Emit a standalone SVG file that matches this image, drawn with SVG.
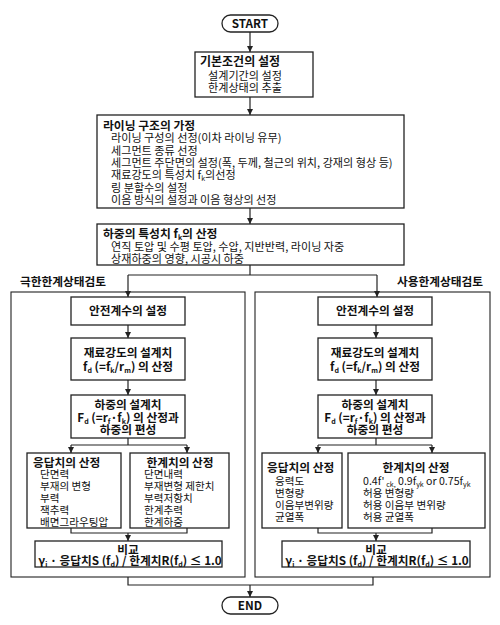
<svg xmlns="http://www.w3.org/2000/svg" width="500" height="625" viewBox="0 0 500 625">
<style>
text{font-family:"Noto Sans CJK KR","Noto Sans",sans-serif;fill:#111;}
.t{font-size:10.6px;}
.tt{font-size:11.1px;}
.b{font-size:11.7px;font-weight:bold;}
.bb{font-size:11.8px;font-weight:bold;}
.c{text-anchor:middle;}
.box{fill:#fff;stroke:#222;stroke-width:1.3;}
.panel{fill:none;stroke:#222;stroke-width:1.1;}
.ln{fill:none;stroke:#222;stroke-width:1.2;}
.s{font-size:7px;baseline-shift:-2px;}
</style>
<defs>
<marker id="ah" viewBox="0 0 8 8" refX="8" refY="4" markerWidth="6" markerHeight="6" markerUnits="userSpaceOnUse" orient="auto">
<path d="M0,0 L8,4 L0,8 z" fill="#222"/>
</marker>
</defs>

<g id="panels">
<rect class="panel" x="11" y="292" width="234" height="285"/>
<rect class="panel" x="255" y="292" width="235" height="285"/>
<text class="b" x="20" y="286">극한한계상태검토</text>
<text class="b" x="397" y="286">사용한계상태검토</text>
</g>

<g id="connectors">
<line class="ln" x1="250" y1="32" x2="250" y2="52" marker-end="url(#ah)"/>
<line class="ln" x1="250" y1="97" x2="250" y2="115" marker-end="url(#ah)"/>
<line class="ln" x1="250" y1="208" x2="250" y2="224" marker-end="url(#ah)"/>
<polyline class="ln" points="250,265 250,275"/>
<polyline class="ln" points="128,275 377,275"/>
<line class="ln" x1="128" y1="275" x2="128" y2="297" marker-end="url(#ah)"/>
<line class="ln" x1="377" y1="275" x2="377" y2="297" marker-end="url(#ah)"/>
<line class="ln" x1="128" y1="325" x2="128" y2="338" marker-end="url(#ah)"/>
<line class="ln" x1="128" y1="380" x2="128" y2="395" marker-end="url(#ah)"/>
<polyline class="ln" points="128,438 128,445"/>
<polyline class="ln" points="71,445 187,445"/>
<line class="ln" x1="71" y1="445" x2="71" y2="453" marker-end="url(#ah)"/>
<line class="ln" x1="187" y1="445" x2="187" y2="453" marker-end="url(#ah)"/>
<polyline class="ln" points="71,528 71,533 187,533 187,528"/>
<line class="ln" x1="128" y1="533" x2="128" y2="541" marker-end="url(#ah)"/>
<line class="ln" x1="376" y1="325" x2="376" y2="338" marker-end="url(#ah)"/>
<line class="ln" x1="376" y1="380" x2="376" y2="395" marker-end="url(#ah)"/>
<polyline class="ln" points="376,438 376,445"/>
<polyline class="ln" points="318,445 432,445"/>
<line class="ln" x1="318" y1="445" x2="318" y2="453" marker-end="url(#ah)"/>
<line class="ln" x1="432" y1="445" x2="432" y2="453" marker-end="url(#ah)"/>
<polyline class="ln" points="318,528 318,533 432,533 432,528"/>
<line class="ln" x1="376" y1="533" x2="376" y2="541" marker-end="url(#ah)"/>
<polyline class="ln" points="128,577 128,585 373,585 373,577"/>
<line class="ln" x1="250" y1="585" x2="250" y2="597" marker-end="url(#ah)"/>
</g>

<g id="start">
<rect class="box" x="222" y="15" width="56" height="17" rx="8.5"/>
<text class="b c" x="250" y="27.5">START</text>
</g>

<g id="basic">
<rect class="box" x="195" y="52" width="118" height="45"/>
<text class="bb" x="200" y="66" style="font-size:12px">기본조건의 설정</text>
<text class="tt" x="208" y="80">설계기간의 설정</text>
<text class="tt" x="208" y="92">한계상태의 추출</text>
</g>

<g id="lining">
<rect class="box" x="97" y="115" width="307" height="93"/>
<text class="bb" x="103" y="130">라이닝 구조의 가정</text>
<text class="tt" x="111" y="142.3">라이닝 구성의 선정(이차 라이닝 유무)</text>
<text class="tt" x="111" y="154.6">세그먼트 종류 선정</text>
<text class="tt" x="111" y="166.9">세그먼트 주단면의 설정(폭, 두께, 철근의 위치, 강재의 형상 등)</text>
<text class="tt" x="111" y="179.2">재료강도의 특성치 f<tspan class="s">k</tspan>의선정</text>
<text class="tt" x="111" y="191.5">링 분할수의 설정</text>
<text class="tt" x="111" y="203.8">이음 방식의 설정과 이음 형상의 선정</text>
</g>

<g id="load">
<rect class="box" x="97" y="224" width="307" height="41"/>
<text class="bb" x="103" y="238">하중의 특성치 f<tspan class="s">k</tspan>의 산정</text>
<text class="tt" x="111" y="250.5">연직 토압 및 수평 토압, 수압, 지반반력, 라이닝 자중</text>
<text class="tt" x="111" y="262.5">상재하중의 영향, 시공시 하중</text>
</g>

<g id="L-safety">
<rect class="box" x="71" y="297" width="114" height="28"/>
<text class="b c" x="128" y="315">안전계수의 설정</text>
</g>
<g id="L-material">
<rect class="box" x="71" y="338" width="114" height="42"/>
<text class="b c" x="128" y="357">재료강도의 설계치</text>
<text class="b c" x="128" y="371">f<tspan class="s">d</tspan> (=f<tspan class="s">k</tspan>/r<tspan class="s">m</tspan>) 의 산정</text>
</g>
<g id="L-design-load">
<rect class="box" x="71" y="395" width="114" height="43"/>
<text class="b c" x="128" y="409">하중의 설계치</text>
<text class="b c" x="128" y="421.5">F<tspan class="s">d</tspan> (=r<tspan class="s">f</tspan>·f<tspan class="s">k</tspan>) 의 산정과</text>
<text class="b c" x="128" y="434">하중의 편성</text>
</g>
<g id="L-response">
<rect class="box" x="27" y="453" width="94" height="75"/>
<text class="b" x="33" y="467">응답치의 산정</text>
<text class="t" x="40" y="477.5">단면력</text>
<text class="t" x="40" y="489.5">부재의 변형</text>
<text class="t" x="40" y="501.5">부력</text>
<text class="t" x="40" y="513.5">잭추력</text>
<text class="t" x="40" y="525.5">배면그라우팅압</text>
</g>
<g id="L-limit">
<rect class="box" x="130" y="453" width="99" height="75"/>
<text class="b c" x="180" y="467">한계치의 산정</text>
<text class="t" x="144" y="477.5">단면내력</text>
<text class="t" x="144" y="489.5">부재변형 제한치</text>
<text class="t" x="144" y="501.5">부력저항치</text>
<text class="t" x="144" y="513.5">한계추력</text>
<text class="t" x="144" y="525.5">한계하중</text>
</g>
<g id="L-compare">
<rect class="box" x="35" y="541" width="187" height="26"/>
<text class="b c" x="128" y="553.5">비교</text>
<text class="b c" x="130" y="564.5">γ<tspan class="s">i</tspan> · 응답치S (f<tspan class="s">d</tspan>) / 한계치R(f<tspan class="s">d</tspan>) ≤ 1.0</text>
</g>

<g id="R-safety">
<rect class="box" x="318" y="297" width="114" height="28"/>
<text class="b c" x="375" y="315">안전계수의 설정</text>
</g>
<g id="R-material">
<rect class="box" x="318" y="338" width="114" height="42"/>
<text class="b c" x="375" y="357">재료강도의 설계치</text>
<text class="b c" x="375" y="371">f<tspan class="s">d</tspan> (=f<tspan class="s">k</tspan>/r<tspan class="s">m</tspan>) 의 산정</text>
</g>
<g id="R-design-load">
<rect class="box" x="318" y="395" width="114" height="43"/>
<text class="b c" x="375" y="409">하중의 설계치</text>
<text class="b c" x="375" y="421.5">F<tspan class="s">d</tspan> (=r<tspan class="s">f</tspan>·f<tspan class="s">k</tspan>) 의 산정과</text>
<text class="b c" x="375" y="434">하중의 편성</text>
</g>
<g id="R-response">
<rect class="box" x="262" y="453" width="80" height="75"/>
<text class="b" x="267" y="472">응답치의 산정</text>
<text class="t" x="275" y="484.5">응력도</text>
<text class="t" x="275" y="496.5">변형량</text>
<text class="t" x="275" y="508.5">이음부변위량</text>
<text class="t" x="275" y="520.5">균열폭</text>
</g>
<g id="R-limit">
<rect class="box" x="348" y="453" width="137" height="75"/>
<text class="b c" x="416" y="472">한계치의 산정</text>
<text class="t" x="363" y="484.5">0.4f'<tspan class="s"> ck,</tspan> 0.9f<tspan class="s">yk</tspan> or 0.75f<tspan class="s">yk</tspan></text>
<text class="t" x="363" y="496.5">허용 변형량</text>
<text class="t" x="363" y="508.5">허용 이음부 변위량</text>
<text class="t" x="363" y="520.5">허용 균열폭</text>
</g>
<g id="R-compare">
<rect class="box" x="282" y="541" width="188" height="26"/>
<text class="b c" x="376" y="553.5">비교</text>
<text class="b c" x="377" y="564.5">γ<tspan class="s">i</tspan> · 응답치S (f<tspan class="s">d</tspan>) / 한계치R(f<tspan class="s">d</tspan>) ≤ 1.0</text>
</g>

<g id="end">
<rect class="box" x="222" y="597" width="56" height="17" rx="8.5"/>
<text class="b c" x="250" y="609.5">END</text>
</g>
</svg>
